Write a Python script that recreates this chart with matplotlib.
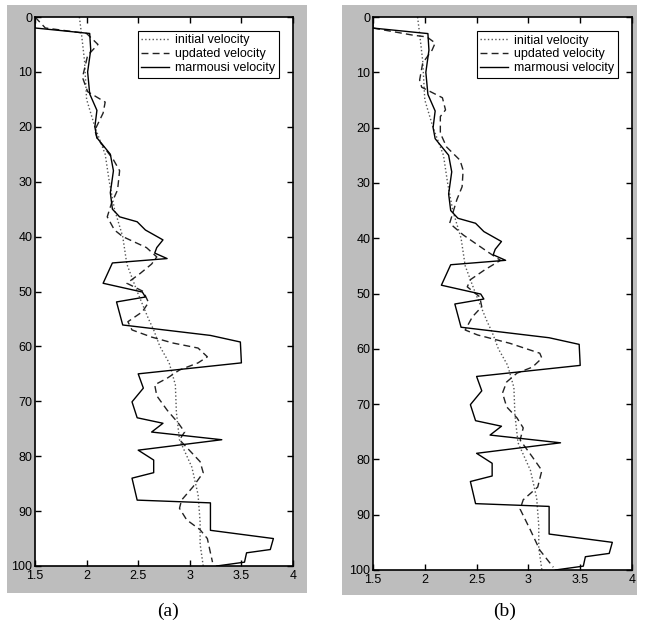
import matplotlib
matplotlib.use('Agg')
import matplotlib.pyplot as plt
from matplotlib.patches import Rectangle

plt.rcParams['font.family'] = ['Liberation Sans', 'DejaVu Sans']

# marmousi (true) velocity profile, shared by both panels
marm_depth = [0, 2, 3, 6, 10, 14, 17, 20, 22, 25, 28, 32, 35, 36.4, 37.3,
              38.8, 40.6, 42, 43, 44, 44.8, 48.5, 50.1, 51, 51.9, 56.1, 58, 59.2, 63, 65,
              67.6, 70.1, 73, 74, 75.6, 77, 78.9, 80.7, 83, 84, 88, 88.5, 93.5, 95, 97,
              97.6, 99.3, 100]
marm_vel = [1.5, 1.5, 2.03, 2.04, 2.01, 2.03, 2.1, 2.08, 2.1, 2.23, 2.26, 2.23, 2.25, 2.32, 2.49,
            2.57, 2.74, 2.68, 2.66, 2.78, 2.25, 2.16, 2.54, 2.57, 2.29, 2.35, 3.2, 3.49, 3.5, 2.5,
            2.55, 2.44, 2.49, 2.74, 2.63, 3.31, 2.5, 2.65, 2.65, 2.44, 2.49, 3.2, 3.2, 3.81, 3.78,
            3.55, 3.53, 3.26]

# initial (smoothed) velocity
init_depth = [0, 3, 8, 15, 20, 25, 30, 35, 40, 45, 50, 55, 57, 60, 63,
              67, 72, 77, 82, 87, 92, 96, 100]
init_vel = [1.93, 1.95, 1.98, 2.0, 2.08, 2.18, 2.22, 2.27, 2.35, 2.39, 2.49, 2.6, 2.65, 2.71, 2.8,
            2.86, 2.87, 2.9, 3.02, 3.08, 3.1, 3.1, 3.13]

# updated velocity, panel (a)
upd_a_depth = [0, 2, 3, 5, 7, 11, 13.6, 15.5, 17.5, 20.6, 22, 26, 28, 31.5, 34,
               36.4, 38.8, 40, 42, 43.7, 45, 46.7, 48.5, 50, 52, 53.7, 55.5, 57,
               58.3, 59.4, 60.3, 61.9, 63, 64.3, 65.8, 67, 69, 71.6, 74, 75.6, 77,
               79, 81, 83, 85.6, 88, 89.5, 91.6, 93.4, 95, 97.6, 99.3]
upd_a_vel = [1.5, 1.6, 2.0, 2.11, 2.01, 1.96, 2.01, 2.18, 2.16, 2.08, 2.1, 2.26, 2.32, 2.3, 2.24,
             2.2, 2.27, 2.35, 2.58, 2.68, 2.63, 2.52, 2.39, 2.55, 2.6, 2.54, 2.4, 2.44,
             2.63, 2.84, 3.08, 3.17, 3.08, 2.9, 2.78, 2.66, 2.68, 2.78, 2.89, 2.95, 2.9,
             3.0, 3.1, 3.13, 3.03, 2.92, 2.9, 2.97, 3.1, 3.17, 3.2, 3.22]

# updated velocity, panel (b)
upd_b_depth = [0, 2, 3.3, 3.6, 4.7, 6, 8.3, 11.4, 12.7, 14.6, 16.8, 18, 21, 23.5, 25.9,
               27.7, 30.7, 33, 37.3, 39.4, 42.5, 44, 45.7, 47.5, 48.8, 50.6, 52.4, 54.2,
               56.6, 57.5, 59, 60.8, 61.7, 63.3, 64.4, 66, 68, 70.5, 72.5, 74.3, 76.5,
               79.6, 82, 85, 87.3, 89, 92.8, 96.4, 99.5]
upd_b_vel = [1.5, 1.5, 1.89, 2.02, 2.1, 2.07, 1.98, 1.95, 1.97, 2.17, 2.2, 2.15, 2.15, 2.21, 2.34,
             2.37, 2.36, 2.31, 2.24, 2.37, 2.61, 2.73, 2.58, 2.44, 2.41, 2.53, 2.55, 2.46,
             2.39, 2.51, 2.82, 3.11, 3.13, 3.04, 2.89, 2.79, 2.75, 2.79, 2.89, 2.95, 2.92,
             3.04, 3.13, 3.09, 2.95, 2.92, 3.02, 3.11, 3.24]

xticks = [1.5, 2, 2.5, 3, 3.5, 4]
xticklabels = ['1.5', '2', '2.5', '3', '3.5', '4']
yticks = [0, 10, 20, 30, 40, 50, 60, 70, 80, 90, 100]

W, H = 647, 630
fig = plt.figure(figsize=(W / 100, H / 100), dpi=100)


def fx(px):
    return px / W


def fy(py):
    return 1 - py / H


panels = [
    # gray box (x0, y0, x1, y1), axes box, updated data, caption
    ((7, 5, 307, 593), (35, 17, 293, 566), upd_a_depth, upd_a_vel, '(a)', 168),
    ((342, 5, 637, 595), (373, 17, 632, 570), upd_b_depth, upd_b_vel, '(b)', 505),
]

for gbox, abox, ud, uv, cap, capx in panels:
    # gray backdrop drawn in its own axes behind the plot
    bg = fig.add_axes([fx(gbox[0]), fy(gbox[3]), fx(gbox[2] - gbox[0]),
                       (gbox[3] - gbox[1]) / H], zorder=0)
    bg.set_facecolor('#bdbdbd')
    bg.set_xticks([])
    bg.set_yticks([])
    for s in bg.spines.values():
        s.set_visible(False)

    ax = fig.add_axes([fx(abox[0]), fy(abox[3]), fx(abox[2] - abox[0]),
                       (abox[3] - abox[1]) / H], zorder=1)
    ax.set_facecolor('white')
    ax.plot(init_vel, init_depth, ':', color='#555555', lw=1.0, label='initial velocity')
    ax.plot(uv, ud, '--', color='#222222', lw=1.0, dashes=(5, 3), label='updated velocity')
    ax.plot(marm_vel, marm_depth, '-', color='black', lw=1.0, label='marmousi velocity')
    ax.set_xlim(1.5, 4)
    ax.set_ylim(100, 0)
    ax.set_xticks(xticks)
    ax.set_xticklabels(xticklabels)
    ax.set_yticks(yticks)
    ax.tick_params(direction='in', top=True, right=True, labelsize=9, length=4,
                   width=1)
    ax.tick_params(axis='x', pad=3)
    ax.tick_params(axis='y', pad=2)
    for s in ax.spines.values():
        s.set_linewidth(1.2)
    leg = ax.legend(loc='upper right', bbox_to_anchor=(0.946, 0.975), borderaxespad=0,
                    fontsize=9, fancybox=False, framealpha=1, edgecolor='black',
                    handlelength=2.2, borderpad=0.3, labelspacing=0.15,
                    handletextpad=0.5)
    leg.get_frame().set_linewidth(0.8)
    fig.text(fx(capx), fy(611), cap, ha='center', va='center', fontsize=14,
             family=['Liberation Serif', 'DejaVu Serif'])

fig.savefig('out.png', dpi=100, facecolor='white')
